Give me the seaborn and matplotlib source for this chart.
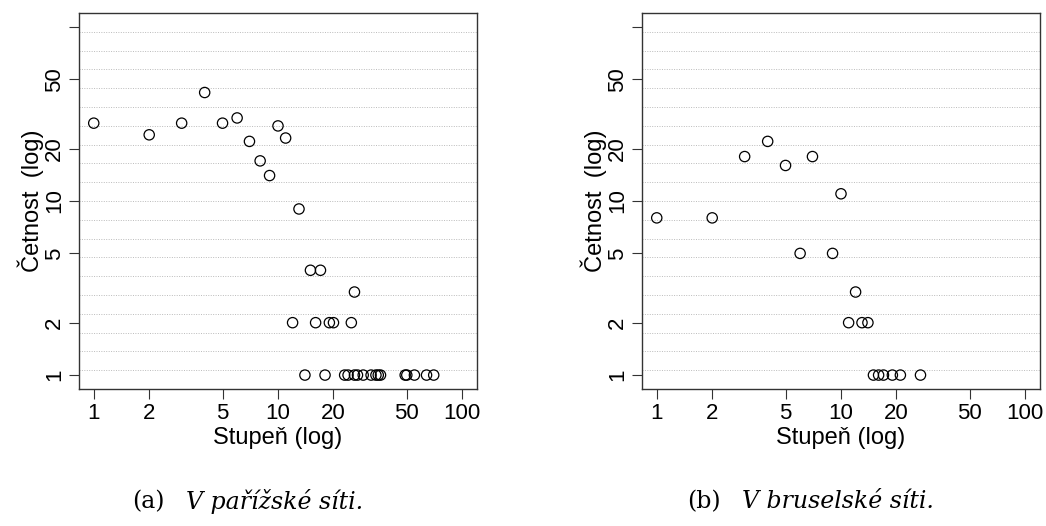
import numpy as np
import pandas as pd
import matplotlib
matplotlib.use('Agg')
import matplotlib.pyplot as plt
import seaborn as sns

# degree (x) and count (y)
paris_deg = [1, 2, 3, 4, 5, 6, 7, 8, 9, 10, 11, 13, 15, 17, 26,
             12, 16, 19, 20, 25,
             14, 18, 23, 24, 26, 27, 29, 32, 34, 35, 36, 49, 50, 55, 64, 70]
paris_cnt = [28, 24, 28, 42, 28, 30, 22, 17, 14, 27, 23, 9, 4, 4, 3,
             2, 2, 2, 2, 2,
             1, 1, 1, 1, 1, 1, 1, 1, 1, 1, 1, 1, 1, 1, 1, 1]

brus_deg = [1, 2, 3, 4, 5, 6, 7, 9, 10, 12, 11, 13, 14, 15, 16, 17, 19, 21, 27]
brus_cnt = [8, 8, 18, 22, 16, 5, 18, 5, 11, 3, 2, 2, 2, 1, 1, 1, 1, 1, 1]

ticks = [1, 2, 5, 10, 20, 50, 100]
xtick_labels = ['1', '2', '5', '10', '20', '50', '100']
ytick_labels = ['1', '2', '5', '10', '20', '50', '']

captions = [('(a)', 'V pařížské síti.'), ('(b)', 'V bruselské síti.')]

sns.set_style('white')
plt.rcParams['font.family'] = ['Liberation Sans', 'DejaVu Sans']
plt.rcParams.update({'text.color': 'black', 'axes.labelcolor': 'black',
                     'xtick.color': 'black', 'ytick.color': 'black'})

fig = plt.figure(figsize=(10.46, 5.26), dpi=100)
W, H = 1046, 526
ax1 = fig.add_axes([79 / W, (H - 389) / H, 398 / W, 376 / H])
ax2 = fig.add_axes([642 / W, (H - 389) / H, 398 / W, 376 / H])

lim = (10 ** -0.08, 10 ** 2.08)

for ax, deg, cnt in [(ax1, paris_deg, paris_cnt), (ax2, brus_deg, brus_cnt)]:
    df = pd.DataFrame({'deg': deg, 'cnt': cnt})
    ax.set_xscale('log')
    ax.set_yscale('log')
    # R style grid: 20 equal bands across the plot region
    for k in range(1, 20):
        ax.plot([0, 1], [k / 20, k / 20], transform=ax.transAxes,
                ls=(0, (1, 1.5)), color='#bbbbbb', lw=0.7, zorder=0)
    sns.scatterplot(x='deg', y='cnt', data=df, ax=ax, marker='o', s=55,
                    facecolor='none', edgecolor='black', linewidth=0.9,
                    zorder=3)
    ax.set_xlim(lim)
    ax.set_ylim(lim)
    ax.set_xticks(ticks)
    ax.set_xticklabels(xtick_labels)
    ax.set_yticks(ticks)
    ax.set_yticklabels(ytick_labels, rotation=90, va='center')
    ax.minorticks_off()
    ax.tick_params(axis='both', direction='out', length=7, width=0.8,
                   color='#333333', labelsize=16, left=True, bottom=True)
    ax.tick_params(axis='x', pad=3)
    ax.tick_params(axis='y', pad=3)
    for s in ax.spines.values():
        s.set_color('#333333')
        s.set_linewidth(1.0)
    ax.set_xlabel('Stupeň (log)', fontsize=17, labelpad=2)
    ax.set_ylabel('Četnost  (log)', fontsize=17, labelpad=0)

# captions below each panel
serif = ['DejaVu Serif', 'Liberation Serif']
for (tag, text), (x_tag, x_txt) in zip(captions, [(165, 186), (721, 742)]):
    fig.text(x_tag / W, 1 - 502 / H, tag, ha='right', va='center',
             fontsize=17, family=serif)
    fig.text(x_txt / W, 1 - 502 / H, text, ha='left', va='center',
             fontsize=17, style='italic', family=serif)

fig.savefig('out.png', dpi=100)
